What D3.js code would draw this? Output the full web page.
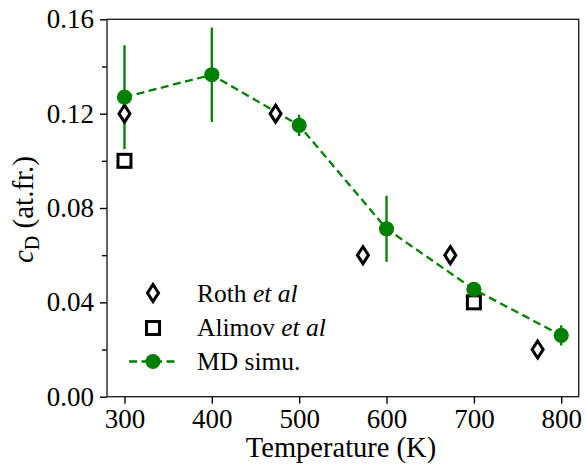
<!DOCTYPE html>
<html>
<head>
<meta charset="utf-8">
<script src="https://cdn.jsdelivr.net/npm/d3@7"></script>
<style>
body{margin:0;background:#fff;}
</style>
</head>
<body>
<script>
var w=586;
var h=467;
var margin={left:107,right:7.3,top:19.3,bottom:70.3};
var serif="'Liberation Serif', serif";

// MD simulation
var mdTemp=[300,400,500,600,700,800];
var mdVal=[0.127,0.1365,0.115,0.0712,0.0455,0.026];
var mdErr=[0.022,0.020,0.0045,0.014,0.002,0.0043];

// Roth et al
var rothTemp=[300,473,573,673,773];
var rothVal=[0.12,0.12,0.06,0.06,0.02];

// Alimov et al
var alimovTemp=[300,700];
var alimovVal=[0.10,0.04];

var xTicks=[300,400,500,600,700,800];
var yTicks=[0,0.04,0.08,0.12,0.16];
var yMinor=[0.02,0.06,0.10,0.14];

var green="#008000";

var xScale=d3.scaleLinear()
    .domain([280,820])
    .range([margin.left,w-margin.right]);
var yScale=d3.scaleLinear()
    .domain([0,0.16])
    .range([h-margin.bottom,margin.top]);

var svg=d3.select("body").append("svg")
    .attr("width",w)
    .attr("height",h);

// axes
svg.append("g")
    .attr("transform","translate(0,"+(h-margin.bottom)+")")
    .call(d3.axisBottom(xScale).tickValues(xTicks).tickSize(7).tickPadding(5).tickFormat(d3.format("d")));
svg.append("g")
    .attr("transform","translate("+margin.left+",0)")
    .call(d3.axisLeft(yScale).tickValues(yTicks).tickSize(7).tickPadding(6).tickFormat(d3.format(".2f")));
svg.append("g")
    .attr("transform","translate("+margin.left+",0)")
    .call(d3.axisLeft(yScale).tickValues(yMinor).tickSize(5).tickFormat(""));

svg.selectAll(".domain").remove();
svg.selectAll(".tick line").attr("stroke","#000").attr("stroke-width",1.4);
svg.selectAll(".tick text")
    .attr("fill","#000")
    .style("font-family",serif)
    .style("font-size","27px");

svg.append("rect")
    .attr("x",margin.left)
    .attr("y",margin.top)
    .attr("width",w-margin.left-margin.right)
    .attr("height",h-margin.top-margin.bottom)
    .attr("fill","none")
    .attr("stroke","#222")
    .attr("stroke-width",1.4);

// labels
svg.append("text")
    .attr("x",341)
    .attr("y",457)
    .attr("text-anchor","middle")
    .style("font-family",serif)
    .style("font-size","28.5px")
    .text("Temperature (K)");

var yl=svg.append("text")
    .attr("transform","translate(33,209.5) rotate(-90)")
    .attr("text-anchor","middle")
    .style("font-family",serif)
    .style("font-size","29px");
yl.append("tspan").attr("font-style","italic").text("c");
yl.append("tspan").style("font-size","20px").attr("dy",6).text("D");
yl.append("tspan").attr("dy",-6).text(" (at.fr.)");

// MD simulation line
var line=d3.line()
    .x(function(d,i){return xScale(mdTemp[i]);})
    .y(function(d){return yScale(d);});

svg.append("path")
    .datum(mdVal)
    .attr("d",line)
    .attr("fill","none")
    .attr("stroke",green)
    .attr("stroke-width",2.3)
    .attr("stroke-dasharray","8,4.5");

svg.selectAll(".err")
    .data(mdVal)
    .enter()
    .append("line")
    .attr("class","err")
    .attr("x1",function(d,i){return xScale(mdTemp[i]);})
    .attr("x2",function(d,i){return xScale(mdTemp[i]);})
    .attr("y1",function(d,i){return yScale(d-mdErr[i]);})
    .attr("y2",function(d,i){return yScale(d+mdErr[i]);})
    .attr("stroke",green)
    .attr("stroke-width",2.3);

// diamonds
var diamond=function(cx,cy){
    return "M"+cx+","+(cy-8.5)+"L"+(cx+5.5)+","+cy+"L"+cx+","+(cy+8.5)+"L"+(cx-5.5)+","+cy+"Z";
};

svg.selectAll(".roth")
    .data(rothVal)
    .enter()
    .append("path")
    .attr("class","roth")
    .attr("d",function(d,i){return diamond(xScale(rothTemp[i]),yScale(d));})
    .attr("fill","#fff")
    .attr("stroke","#000")
    .attr("stroke-width",3);

svg.selectAll(".alimov")
    .data(alimovVal)
    .enter()
    .append("rect")
    .attr("class","alimov")
    .attr("x",function(d,i){return xScale(alimovTemp[i])-6.5;})
    .attr("y",function(d){return yScale(d)-6.5;})
    .attr("width",13)
    .attr("height",13)
    .attr("fill","#fff")
    .attr("stroke","#000")
    .attr("stroke-width",3);

svg.selectAll(".md")
    .data(mdVal)
    .enter()
    .append("circle")
    .attr("class","md")
    .attr("cx",function(d,i){return xScale(mdTemp[i]);})
    .attr("cy",function(d){return yScale(d);})
    .attr("r",7.6)
    .attr("fill",green);

// legend
var lg=svg.append("g");
lg.append("path").attr("d",diamond(153,293)).attr("fill","#fff").attr("stroke","#000").attr("stroke-width",3);
lg.append("rect").attr("x",146.5).attr("y",321.5).attr("width",13).attr("height",13)
    .attr("fill","#fff").attr("stroke","#000").attr("stroke-width",3);
lg.append("line").attr("x1",129).attr("x2",177).attr("y1",361.5).attr("y2",361.5)
    .attr("stroke",green).attr("stroke-width",2.3).attr("stroke-dasharray","8,4.5");
lg.append("circle").attr("cx",153).attr("cy",361.5).attr("r",7.6).attr("fill",green);

var names=[["Roth ","et al"],["Alimov ","et al"],["MD simu.",""]];
var ly=[301.5,336,370];
names.forEach(function(n,i){
    var t=lg.append("text").attr("x",197).attr("y",ly[i])
        .style("font-family",serif).style("font-size","25.5px");
    t.append("tspan").text(n[0]);
    if(n[1]) t.append("tspan").attr("font-style","italic").text(n[1]);
});
</script>
</body>
</html>
